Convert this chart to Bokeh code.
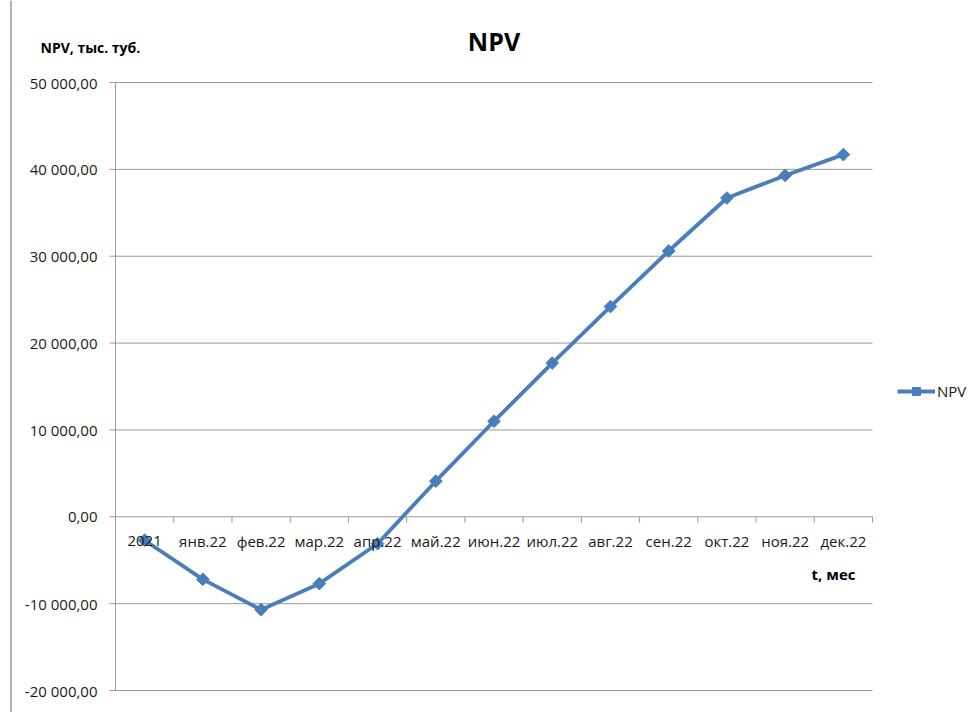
import math
from bokeh.plotting import figure
from bokeh.models import Range1d, Legend, LegendItem, Label, Span, ColumnDataSource
from bokeh.core.properties import value
from bokeh.embed import file_html
from bokeh.resources import INLINE

# ---- data ----
categories = ["2021", "янв.22", "фев.22", "мар.22", "апр.22", "май.22", "июн.22",
              "июл.22", "авг.22", "сен.22", "окт.22", "ноя.22", "дек.22"]
npv = [-2700, -7200, -10700, -7700, -3100, 4100, 11000, 17700, 24200, 30600, 36700, 39300, 41700]
y_ticks = [-20000, -10000, 0, 10000, 20000, 30000, 40000, 50000]
y_tick_labels = ["-20 000,00", "-10 000,00", "0,00", "10 000,00", "20 000,00",
                 "30 000,00", "40 000,00", "50 000,00"]
title_text = "NPV"
y_title = "NPV, тыс. туб."
x_title = "t, мес"
series_name = "NPV"

# ---- style / layout (pixels) ----
FONT = "Open Sans"
BLUE = "#4A7EBB"
GRID = "#9a9a9a"
TXT = "#1a1a1a"
FIG_W, FIG_H = 970, 712
PLOT_L, PLOT_R = 115, 872      # plot area inside the canvas
PLOT_T, PLOT_B = 82, 690

n = len(categories)
xs = [i + 0.5 for i in range(n)]
y_min, y_max = y_ticks[0], y_ticks[-1]

ux = (PLOT_R - PLOT_L) / n                 # px per category
vy = (PLOT_B - PLOT_T) / (y_max - y_min)   # px per value unit
x_range = Range1d(-PLOT_L / ux, n + (FIG_W - PLOT_R) / ux)
y_range = Range1d(y_min - (FIG_H - PLOT_B) / vy, y_max + PLOT_T / vy)

p = figure(width=FIG_W, height=FIG_H, output_backend="svg", toolbar_location=None,
           x_range=x_range, y_range=y_range, x_axis_type=None, y_axis_type=None,
           min_border=0)
p.outline_line_color = None
p.background_fill_color = "white"
p.border_fill_color = "white"
p.grid.visible = False

# chart-area left border line
p.add_layout(Span(location=-(PLOT_L - 10.5) / ux, dimension="height",
                  line_color="#b4b4b4", line_width=2))

# horizontal gridlines (with outward tick stubs) and the value axis
tick_px = 6
p.segment(x0=[-tick_px / ux] * len(y_ticks), y0=y_ticks, x1=[n] * len(y_ticks), y1=y_ticks,
          line_color=GRID, line_width=1)
p.segment(x0=[0], y0=[y_min], x1=[0], y1=[y_max], line_color=GRID, line_width=1)
p.text(x=[0] * len(y_ticks), y=y_ticks, text=y_tick_labels, x_offset=-18,
       text_align="right", text_baseline="middle", text_font=value(FONT),
       text_font_size="15px", text_color=TXT)

# category ticks on the zero line (between categories)
bounds = list(range(n + 1))
p.segment(x0=bounds, y0=[0] * len(bounds), x1=bounds, y1=[-tick_px / vy] * len(bounds),
          line_color=GRID, line_width=1)

# series
src = ColumnDataSource(dict(x=xs, y=npv))
lr = p.line("x", "y", source=src, line_color=BLUE, line_width=3.8)
sr = p.scatter("x", "y", source=src, marker="square", angle=math.pi / 4, size=9,
               fill_color=BLUE, line_color=BLUE, line_width=1)

# category labels drawn above the series, as in the original
p.text(x=xs, y=[0] * n, text=categories, text_align="center", text_baseline="middle",
       y_offset=24, text_font=value(FONT), text_font_size="15px", text_color=TXT)

legend = Legend(items=[LegendItem(label=series_name, renderers=[lr, sr])],
                location=(PLOT_R + 25, FIG_H - 391 - 10), border_line_color=None,
                background_fill_alpha=0, label_text_font=FONT, label_text_font_size="15px",
                label_text_color=TXT, glyph_width=38, glyph_height=20, label_height=20,
                label_standoff=2, padding=0, margin=0, spacing=0)
p.add_layout(legend, "center")

# titles
p.add_layout(Label(x=n / 2, y=y_max, y_offset=42, text=title_text, text_align="center",
                   text_baseline="middle", text_font=FONT, text_font_size="25px",
                   text_font_style="bold", text_color="#000000"))
p.add_layout(Label(x=0, y=y_max, x_offset=-75, y_offset=35, text=y_title, text_align="left",
                   text_baseline="middle", text_font=FONT, text_font_size="14px",
                   text_font_style="bold", text_color="#000000"))
p.add_layout(Label(x=n, y=0, x_offset=-17, y_offset=-57, text=x_title, text_align="right",
                   text_baseline="middle", text_font=FONT, text_font_size="15px",
                   text_font_style="bold", text_color="#000000"))

open("out.html", "w").write(file_html(p, INLINE))
